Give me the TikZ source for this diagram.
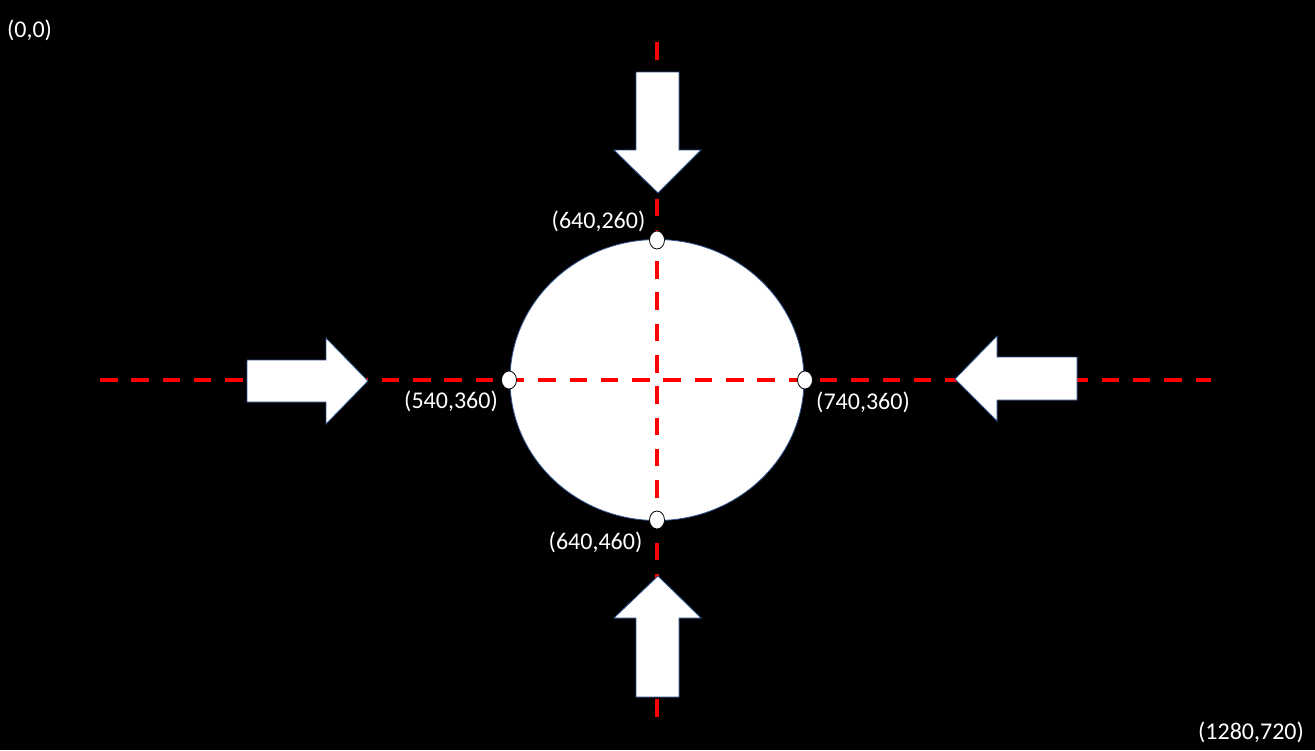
\documentclass[tikz,border=0pt]{standalone}
\usepackage{fontspec}
\setmainfont{Carlito}
\usetikzlibrary{shapes.geometric}
\definecolor{contour}{HTML}{2F528F}
\definecolor{rouge}{HTML}{FF0000}
\begin{document}
\begin{tikzpicture}[x=1pt, y=-1pt]
\tikzset{axe/.style={draw=rouge, line width=3.8pt, dash pattern=on 17.5pt off 13.8pt},
  fleche/.style={fill=white, draw=contour, line width=0.8pt, line join=miter},
  repere/.style={draw=black, fill=white, ellipse, inner sep=0pt, minimum width=15pt, minimum height=18pt, line width=0.8pt},
  texte/.style={text=white, font=\fontsize{24}{28}\selectfont, inner sep=0pt}}
\fill[black] (0,0) rectangle (1315,750);
\useasboundingbox (0,0) rectangle (1315,750);
\node[ellipse, fill=white, draw=contour, line width=0.8pt, inner sep=0pt, minimum width=294pt, minimum height=281pt] (C) at (657,380) {};
\coordinate (G) at (100,380);
\coordinate (D) at (1211,380);
\coordinate (H) at (657,42);
\coordinate (B) at (657,717);
\draw[axe] (G) -- (D);
\draw[axe] (H) -- (B);
\draw[fleche] (636,72) -- (679,72) -- (679,150) -- (701,150) -- (658,193) -- (614,150) -- (636,150) -- cycle;
\draw[fleche] (636,697) -- (679,697) -- (679,618) -- (701,618) -- (658,576) -- (614,618) -- (636,618) -- cycle;
\draw[fleche] (247,360) -- (326,360) -- (326,338) -- (368,381) -- (326,424) -- (326,402) -- (247,402) -- cycle;
\draw[fleche] (1077,357) -- (997,357) -- (997,336) -- (955,379) -- (997,421) -- (997,400) -- (1077,400) -- cycle;
\node[repere] (Mh) at (657,240) {};
\node[repere] (Mb) at (657,520) {};
\node[repere] (Mg) at (509,380) {};
\node[repere] (Md) at (805,380) {};
\node[texte] (O) at (29.5,30) {(0,0)};
\node[texte] (F) at (1251,732) {(1280,720)};
\node[texte] (Lh) at (598.5,221) {(640,260)};
\node[texte] (Lg) at (451,401) {(540,360)};
\node[texte] (Ld) at (863,402) {(740,360)};
\node[texte] (Lb) at (595.5,542) {(640,460)};
\end{tikzpicture}
\end{document}
